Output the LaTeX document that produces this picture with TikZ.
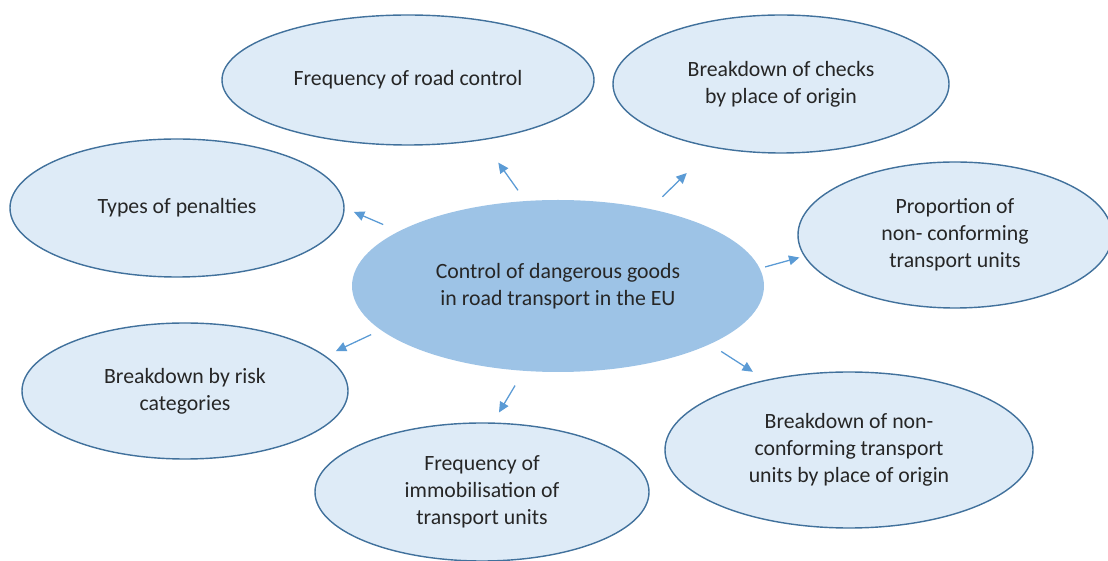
\documentclass[tikz,border=0pt]{standalone}
\usepackage{fontspec}
\setmainfont{Carlito}
\usepackage{xcolor}
\usepackage{tikz}
\usetikzlibrary{shapes.geometric,arrows.meta}

\definecolor{topicfill}{HTML}{DEEBF7}
\definecolor{topicline}{HTML}{41719C}
\definecolor{hubfill}{HTML}{9DC3E6}
\definecolor{arrowblue}{HTML}{5B9BD5}

\begin{document}
\begin{tikzpicture}[
  topic/.style={ellipse, draw=topicline, line width=1pt, fill=topicfill,
                inner sep=0pt, align=center, text=black!85,
                font=\fontsize{15.5}{19.2}\selectfont},
  hub/.style={topic, draw=none, fill=hubfill},
  arrow/.style={-{Triangle[length=2.6mm,width=2.4mm]}, draw=arrowblue,
                fill=arrowblue, line width=0.9pt}
]
\useasboundingbox (0,0) rectangle (27.7,14.025);
\node[hub, minimum width=10.3cm, minimum height=4.3cm] (hub) at (13.95, 6.875)
  {Control of dangerous goods\\in road transport in the EU};
\node[topic, minimum width=9.3cm, minimum height=3.25cm] (road) at (10.2, 12.025)
  {Frequency of road control};
\node[topic, minimum width=8.4cm, minimum height=3.45cm] (checks) at (19.525, 11.925)
  {Breakdown of checks\\by place of origin};
\node[topic, minimum width=8.35cm, minimum height=3.45cm] (penalties) at (4.425, 8.825)
  {Types of penalties};
\node[topic, minimum width=7.85cm, minimum height=3.65cm] (share) at (23.875, 8.15)
  {Proportion of\\non- conforming\\transport units};
\node[topic, minimum width=8.15cm, minimum height=3.4cm] (risk) at (4.625, 4.25)
  {Breakdown by risk\\categories};
\node[topic, minimum width=8.35cm, minimum height=3.45cm] (immob) at (12.05, 1.725)
  {Frequency of\\immobilisation of\\transport units};
\node[topic, minimum width=9.2cm, minimum height=3.9cm] (origin) at (21.225, 2.775)
  {Breakdown of non-\\conforming transport\\units by place of origin};
\draw[arrow, shorten <=3.1mm, shorten >=6.85mm] (hub.111.1) -- (road.-39.4);
\draw[arrow, shorten <=4.2mm, shorten >=9.05mm] (hub.40.7) -- (checks.-137.6);
\draw[arrow, shorten <=4.1mm, shorten >=2.5mm] (hub.161.3) -- (penalties.0.4);
\draw[arrow, shorten <=1.25mm, shorten >=1.2mm] (hub.5.3) -- (share.-172.1);
\draw[arrow, shorten <=2.55mm, shorten >=2.8mm] (hub.-166.6) -- (risk.14.8);
\draw[arrow, shorten <=4.1mm, shorten >=2.9mm] (hub.-112.9) -- (immob.81.6);
\draw[arrow, shorten <=3.2mm, shorten >=3.7mm] (hub.-21.7) -- (origin.140.6);
\end{tikzpicture}
\end{document}
